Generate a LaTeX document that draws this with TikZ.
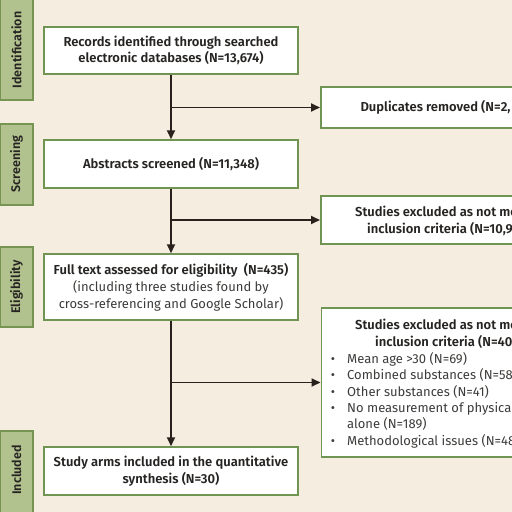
\documentclass[tikz,border=0pt]{standalone}
\usepackage{fontspec}
\setmainfont{Fira Sans}[BoldFont={Fira Sans SemiBold}]
\usetikzlibrary{arrows.meta}
\definecolor{bg}{RGB}{245,237,224}
\definecolor{lblfill}{RGB}{178,194,142}
\definecolor{lblborder}{RGB}{118,148,82}
\definecolor{boxborder}{RGB}{112,148,82}
\definecolor{txt}{RGB}{38,36,34}
\definecolor{txtlight}{RGB}{62,60,58}
\definecolor{arrowc}{RGB}{40,33,28}
\tikzset{
  lbl/.style={draw=lblborder,fill=lblfill,line width=1.5pt},
  lbltext/.style={rotate=90,font=\fontsize{12.5}{14}\selectfont\bfseries,text=txt,inner sep=0},
  mbox/.style={draw=boxborder,fill=white,line width=1.5pt,minimum width=254pt,align=center,inner sep=0,text=txt},
  rbox/.style={draw=boxborder,fill=white,line width=1.5pt,minimum width=280pt,inner sep=0,anchor=west},
  btxt/.style={font=\fontsize{13}{16.5}\selectfont\bfseries,text=txt,inner sep=0},
  ntxt/.style={font=\fontsize{13}{16.5}\selectfont,text=txtlight,inner sep=0},
  arr/.style={draw=arrowc,line width=1.8pt,-{Triangle[length=9pt,width=8pt]}},
}
\begin{document}
\begin{tikzpicture}[x=1pt,y=-1pt]
\useasboundingbox (0,0) rectangle (512,512);
\clip (0,0) rectangle (512,512);
\fill[bg] (0,0) rectangle (512,512);

% side labels
\draw[lbl] (0,-3) rectangle (33,100);
\node[lbltext] (lid) at (16.5,50) {Identification};
\draw[lbl] (0,124) rectangle (33,205);
\node[lbltext] (lsc) at (16.5,164) {Screening};
\draw[lbl] (0,247) rectangle (33,327);
\node[lbltext] (lel) at (16.5,287) {Eligibility};
\draw[lbl] (0,431) rectangle (33,515);
\node[lbltext] (lin) at (16.5,470) {Included};

% main boxes
\node[mbox,minimum height=47pt] (b1) at (171,50.5) {};
\node[btxt,align=center] (b1t) at (171,50.5) {Records identified through searched\\electronic databases (N=13,674)};
\node[mbox,minimum height=48pt] (b2) at (171,164) {};
\node[btxt] (b2t) at (171,164) {Abstracts screened (N=11,348)};
\node[mbox,minimum height=66pt] (b3) at (171,287) {};
\node[btxt] (b3t) at (171,270) {Full text assessed for eligibility\ \ (N=435)};
\node[ntxt,align=center] (b3u) at (171,296) {(including three studies found by\\cross-referencing and Google Scholar)};
\node[mbox,minimum height=48pt] (b4) at (171,471) {};
\node[btxt,align=center] (b4t) at (171,471) {Study arms included in the quantitative\\synthesis (N=30)};

% right boxes
\node[rbox,minimum height=41pt] (r1) at (320,107.5) {};
\node[btxt,anchor=west] (r1t) at (360.3,107.5) {Duplicates removed (N=2,};
\node[rbox,minimum height=48pt] (r2) at (320,220) {};
\node[btxt,anchor=base west] (r2a) at (355,216) {Studies excluded as not me};
\node[btxt,anchor=base west] (r2b) at (367,233) {inclusion criteria (N=10,9};
\node[rbox,minimum height=149pt] (r3) at (320.5,382.5) {};
\node[btxt,anchor=base west] (r3a) at (355,329.5) {Studies excluded as not me};
\node[btxt,anchor=base west] (r3b) at (375,346) {inclusion criteria (N=40};
\foreach \yy/\tt [count=\i] in {363/{Mean age >30 (N=69)},379.5/{Combined substances (N=58},396/{Other substances (N=41)},412.5/{No measurement of physical},445/{Methodological issues (N=48}}{
  \node[ntxt,anchor=base] (bul\i) at (333,\yy) {•};
  \node[ntxt,anchor=base west] (it\i) at (347,\yy) {\tt};
}
\node[ntxt,anchor=base west] (it4b) at (347,428.5) {alone (N=189)};

% connectors
\draw[arr] (b1.south) -- (b2.north);
\draw[arr] (b2.south) -- (b3.north);
\draw[arr] (b3.south) -- (b4.north);
\coordinate (j1) at (b1.south |- r1.west);
\coordinate (j2) at (b2.south |- r2.west);
\coordinate (j3) at (b3.south |- r3.west);
\draw[arr] (j1) -- (r1.west);
\draw[arr] (j2) -- (r2.west);
\draw[arr] (j3) -- (r3.west);
\end{tikzpicture}
\end{document}
